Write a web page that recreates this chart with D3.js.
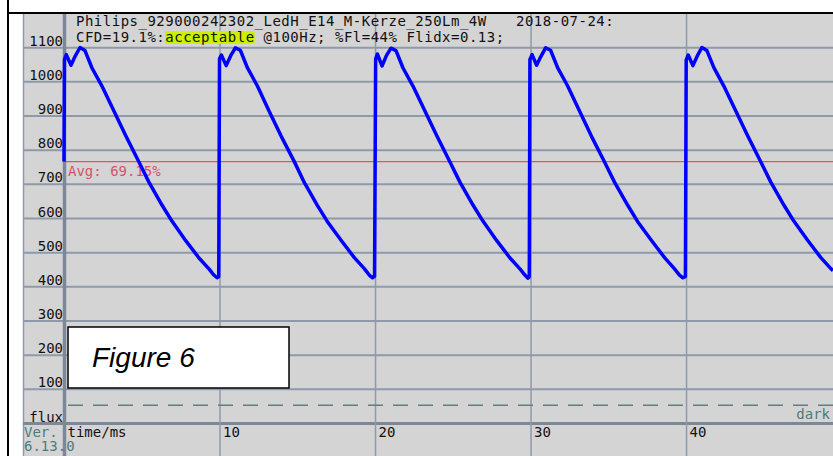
<!DOCTYPE html>
<html>
<head>
<meta charset="utf-8">
<script src="https://cdn.jsdelivr.net/npm/d3@7"></script>
<style>
  body { margin: 0; background: #fff; }
  svg { display: block; }
  text { font-family: "DejaVu Sans Mono", monospace; }
</style>
</head>
<body>
<svg id="chart" width="833" height="456"></svg>
<script>
// Flux samples (time in ms, flux in arbitrary units)
var timeMs = [
  0.00, 0.03, 0.15, 0.45, 0.72, 1.03, 1.35, 1.80, 2.44, 3.21, 3.98, 4.82, 5.46, 6.30, 6.94, 7.84, 8.68, 9.32, 9.64, 9.84, 9.95,
  10.00, 10.12, 10.43, 10.72, 11.02, 11.34, 11.79, 12.43, 13.20, 13.97, 14.81, 15.45, 16.29, 16.93, 17.83, 18.67, 19.31, 19.63, 19.84, 19.97,
  20.04, 20.15, 20.45, 20.74, 21.03, 21.35, 21.80, 22.44, 23.21, 23.98, 24.82, 25.46, 26.30, 26.94, 27.84, 28.68, 29.32, 29.64, 29.84, 29.92,
  29.96, 30.10, 30.39, 30.68, 30.97, 31.29, 31.74, 32.38, 33.15, 33.92, 34.76, 35.40, 36.24, 36.88, 37.78, 38.62, 39.26, 39.58, 39.80, 39.96,
  40.01, 40.14, 40.44, 40.73, 41.02, 41.34, 41.79, 42.43, 43.20, 43.97, 44.81, 45.45, 46.29, 46.93, 47.83, 48.67, 49.31, 49.45
];
var flux = [
  765, 1064, 1078, 1047, 1074, 1099, 1090, 1039, 986, 913, 840, 764, 705, 638, 591, 533, 483, 451, 433, 425, 428,
  1066, 1077, 1046, 1075, 1098, 1091, 1040, 987, 912, 839, 765, 704, 637, 590, 534, 484, 452, 433, 425, 429,
  1065, 1080, 1045, 1076, 1097, 1090, 1039, 986, 913, 840, 764, 705, 638, 591, 533, 483, 451, 433, 424, 428,
  1064, 1078, 1047, 1074, 1098, 1091, 1040, 987, 913, 839, 764, 705, 638, 590, 534, 484, 451, 433, 425, 429,
  1063, 1077, 1046, 1075, 1099, 1090, 1040, 986, 913, 840, 764, 705, 638, 591, 534, 484, 452, 446
];

var yTicks = [0, 100, 200, 300, 400, 500, 600, 700, 800, 900, 1000, 1100];
var xTicks = [0, 10, 20, 30, 40];
var avgValue = 765;
var avgLabel = "Avg: 69.15%";
var darkValue = 52;
var titleLine1 = "Philips_929000242302_LedH_E14_M-Kerze_250Lm_4W";
var titleDate = "2018-07-24:";
var titleLine2 = ["CFD=19.1%:", "acceptable", " @100Hz; %Fl=44% Flidx=0.13;"];

(function() {
  var svg = d3.select('#chart');

  // Layout of the plot area
  var left = 23, axisX = 64, right = 833, plotTop = 13, axisY = 423, bottom = 456;

  var x = d3.scaleLinear().domain([0, 49.45]).range([axisX, right]);
  var y = d3.scaleLinear().domain([0, 1200]).range([axisY, plotTop]);

  var gridColor = '#8e9aaa';
  var axisColor = '#7c8898';

  // Frame: black left edge and top rule, grey panel
  svg.append('rect').attr('x', 7).attr('y', 0).attr('width', 2).attr('height', bottom).attr('fill', '#000');
  svg.append('rect').attr('x', 7).attr('y', 12).attr('width', right - 7).attr('height', 2).attr('fill', '#000');
  svg.append('rect').attr('x', left).attr('y', 14).attr('width', right - left).attr('height', bottom - 14)
    .attr('fill', '#d4d4d4');
  svg.append('line').attr('x1', left + 0.5).attr('x2', left + 0.5).attr('y1', 14).attr('y2', bottom)
    .attr('stroke', gridColor).attr('stroke-width', 1.5);

  // Y axis with horizontal gridlines
  var yAxis = d3.axisLeft(y)
    .tickValues(yTicks)
    .tickSize(-(right - axisX))
    .tickPadding(1)
    .tickFormat(function(d) { return d === 0 ? 'flux' : d; });

  var gy = svg.append('g').attr('transform', 'translate(' + axisX + ',0)').call(yAxis);
  gy.select('.domain').remove();
  gy.selectAll('.tick line')
    .attr('x1', left - axisX)
    .attr('stroke-width', function(d) { return d === 0 ? 3 : 2; })
    .attr('stroke', function(d) { return d === 0 ? axisColor : gridColor; });
  gy.selectAll('.tick text')
    .attr('dy', '-2px')
    .attr('x', -1)
    .style('font-family', '"DejaVu Sans Mono", monospace')
    .style('font-size', '14px')
    .attr('fill', '#111');

  // X axis with vertical gridlines
  var xAxis = d3.axisBottom(x)
    .tickValues(xTicks)
    .tickSize(-(axisY - 14))
    .tickFormat(function(d) { return d === 0 ? 'time/ms' : d; });

  var gx = svg.append('g').attr('transform', 'translate(0,' + axisY + ')').call(xAxis);
  gx.select('.domain').remove();
  gx.selectAll('.tick line')
    .attr('y1', bottom - axisY)
    .attr('stroke', function(d) { return d === 0 ? axisColor : gridColor; })
    .attr('stroke-width', function(d) { return d === 0 ? 3.5 : 1.5; });
  gx.selectAll('.tick text')
    .attr('text-anchor', 'start')
    .attr('x', 3)
    .attr('y', 14)
    .attr('dy', 0)
    .style('font-family', '"DejaVu Sans Mono", monospace')
    .style('font-size', '14px')
    .attr('fill', '#111');

  // Version note in the corner
  svg.append('text').attr('x', left + 1).attr('y', 437).attr('fill', '#4d7b7b')
    .style('font-size', '14px').text('Ver.');
  svg.append('text').attr('x', left + 1).attr('y', 451).attr('fill', '#4d7b7b')
    .style('font-size', '14px').text('6.13.0');

  // Dark level (dashed)
  svg.append('line')
    .attr('x1', axisX + 4).attr('x2', right)
    .attr('y1', y(darkValue)).attr('y2', y(darkValue))
    .attr('stroke', '#5f7e7e').attr('stroke-width', 1.5)
    .attr('stroke-dasharray', '15,10');
  svg.append('text').attr('x', right - 3).attr('y', 419).attr('text-anchor', 'end')
    .attr('fill', '#4d7b7b').style('font-size', '14px').text('dark');

  // Average line
  svg.append('line')
    .attr('x1', axisX).attr('x2', right)
    .attr('y1', y(avgValue)).attr('y2', y(avgValue))
    .attr('stroke', '#e3506c').attr('stroke-width', 1.3);
  svg.append('text').attr('x', axisX + 4).attr('y', y(avgValue) + 14)
    .attr('fill', '#d9506a').style('font-size', '14px').text(avgLabel);

  // Title lines
  var title = svg.append('g').style('font-size', '14px').style('letter-spacing', '0.5px').attr('fill', '#111');
  title.append('text').attr('x', 76).attr('y', 26).text(titleLine1);
  title.append('text').attr('x', 516).attr('y', 26).text(titleDate);

  var t2 = title.append('text').attr('x', 76).attr('y', 42).attr('xml:space', 'preserve');
  t2.append('tspan').text(titleLine2[0]);
  t2.append('tspan').text(titleLine2[1]);
  t2.append('tspan').text(titleLine2[2]);

  // Highlight behind "acceptable"
  var n0 = t2.node();
  var start = n0.getStartPositionOfChar(titleLine2[0].length);
  var end = n0.getEndPositionOfChar(titleLine2[0].length + titleLine2[1].length - 1);
  title.insert('rect', 'text')
    .attr('x', start.x).attr('y', 31)
    .attr('width', end.x - start.x).attr('height', 13)
    .attr('fill', '#ccf000');

  // Flux curve
  svg.append('clipPath').attr('id', 'plotClip')
    .append('rect').attr('x', axisX - 2).attr('y', plotTop).attr('width', right - axisX + 2).attr('height', axisY - plotTop);

  var points = timeMs.map(function(t, i) { return [t, flux[i]]; });
  var line = d3.line()
    .x(function(d) { return x(d[0]); })
    .y(function(d) { return y(d[1]); });

  svg.append('path')
    .datum(points)
    .attr('clip-path', 'url(#plotClip)')
    .attr('d', line)
    .attr('fill', 'none')
    .attr('stroke', '#0000ff')
    .attr('stroke-width', 3.5)
    .attr('stroke-linejoin', 'round');

  // Figure label box
  svg.append('rect').attr('x', 68).attr('y', 327).attr('width', 221).attr('height', 61)
    .attr('fill', '#fff').attr('stroke', '#000').attr('stroke-width', 1.5);
  svg.append('text').attr('x', 92).attr('y', 367)
    .style('font-family', '"Liberation Sans", Arial, sans-serif')
    .style('font-style', 'italic').style('font-size', '28px')
    .attr('fill', '#000').text('Figure 6');
})();
</script>
</body>
</html>
